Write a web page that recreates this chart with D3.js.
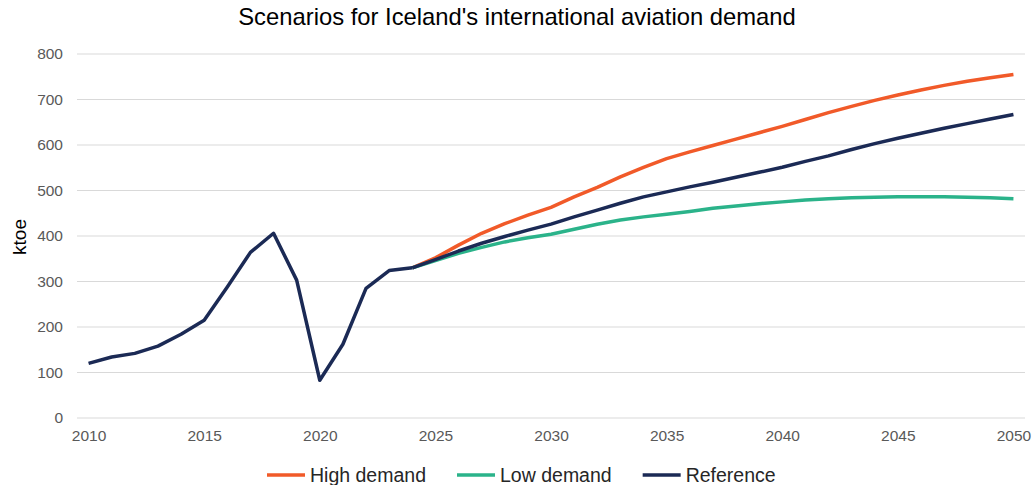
<!DOCTYPE html>
<html>
<head>
<meta charset="utf-8">
<script src="https://cdn.jsdelivr.net/npm/d3@7"></script>
<style>
  html, body { margin: 0; padding: 0; background: #fff; }
  svg text { font-family: "Liberation Sans", Arial, sans-serif; }
</style>
</head>
<body>
<div id="viz"></div>
<script>
const years = d3.range(2010, 2051);
const historyYears = d3.range(2010, 2025);
const history = [120, 134, 142, 158, 184, 215, 288, 364, 406, 303, 83, 162, 285, 324, 330];
const projYears = d3.range(2024, 2051);
const highDemand = [330, 352, 380, 406, 427, 446, 463, 486, 507, 530, 551, 570, 585, 599, 613, 627, 641, 656, 671, 685, 698, 710, 721, 731, 740, 748, 755];
const lowDemand = [330, 346, 362, 375, 387, 396, 404, 415, 426, 435, 442, 448, 454, 461, 466, 471, 475, 479, 482, 484, 485, 486, 486, 486, 485, 484, 482];
const reference = [330, 348, 367, 384, 399, 413, 426, 442, 457, 472, 486, 497, 508, 518, 529, 540, 551, 564, 576, 590, 603, 615, 626, 637, 647, 657, 667];
const yTicks = [0, 100, 200, 300, 400, 500, 600, 700, 800];
const xTicks = [2010, 2015, 2020, 2025, 2030, 2035, 2040, 2045, 2050];

const series = [
  { name: 'High demand', color: '#F15A29', values: highDemand },
  { name: 'Low demand', color: '#2BB38A', values: lowDemand },
  { name: 'Reference', color: '#1B2A55', values: reference }
];

const W = 1035, H = 485;
const margin = { top: 54, right: 10, bottom: 67, left: 77 };
const plotW = 1025 - margin.left;
const plotH = 418 - margin.top;

const svg = d3.select('#viz').append('svg')
  .attr('width', W)
  .attr('height', H);

// category axis, points sit between tick marks like Excel
const x = d3.scalePoint().domain(years).range([0, plotW]).padding(0.5);
const y = d3.scaleLinear().domain([0, 800]).range([plotH, 0]);

const g = svg.append('g')
  .attr('transform', `translate(${margin.left},${margin.top})`);

g.append('g')
  .selectAll('line')
  .data(yTicks)
  .join('line')
  .attr('x1', 0).attr('x2', plotW)
  .attr('y1', d => y(d)).attr('y2', d => y(d))
  .attr('stroke', '#d9d9d9')
  .attr('stroke-width', 1);

const yAxis = g.append('g')
  .call(d3.axisLeft(y).tickValues(yTicks).tickSize(0).tickPadding(14));
yAxis.select('.domain').remove();
yAxis.selectAll('text')
  .attr('fill', '#595959')
  .style('font-size', '15.5px');

const xAxis = g.append('g')
  .attr('transform', `translate(0,${plotH})`)
  .call(d3.axisBottom(x).tickValues(xTicks).tickSize(0).tickPadding(12));
xAxis.select('.domain').remove();
xAxis.selectAll('text')
  .attr('fill', '#595959')
  .style('font-size', '15.5px');

const line = d3.line()
  .x(d => x(d.year))
  .y(d => y(d.value));

series.forEach(s => {
  const pts = projYears.map((yr, i) => ({ year: yr, value: s.values[i] }));
  g.append('path')
    .datum(pts)
    .attr('d', line)
    .attr('fill', 'none')
    .attr('stroke', s.color)
    .attr('stroke-width', 3.5)
    .attr('stroke-linejoin', 'round');
});

g.append('path')
  .datum(historyYears.map((yr, i) => ({ year: yr, value: history[i] })))
  .attr('d', line)
  .attr('fill', 'none')
  .attr('stroke', '#1B2A55')
  .attr('stroke-width', 3.5)
  .attr('stroke-linejoin', 'round');

svg.append('text')
  .attr('x', 517)
  .attr('y', 25)
  .attr('text-anchor', 'middle')
  .attr('fill', '#000')
  .style('font-size', '23.8px')
  .text("Scenarios for Iceland's international aviation demand");

svg.append('text')
  .attr('transform', `translate(26,${margin.top + plotH / 2 + 1}) rotate(-90)`)
  .attr('text-anchor', 'middle')
  .attr('fill', '#000')
  .style('font-size', '19px')
  .text('ktoe');

// legend
const legend = svg.append('g').attr('transform', 'translate(267,475)');
let lx = 0;
series.forEach(s => {
  const item = legend.append('g').attr('transform', `translate(${lx},0)`);
  item.append('line')
    .attr('x1', 0).attr('x2', 38)
    .attr('y1', 0).attr('y2', 0)
    .attr('stroke', s.color)
    .attr('stroke-width', 3.5);
  const t = item.append('text')
    .attr('x', 43)
    .attr('y', 7)
    .attr('fill', '#262626')
    .style('font-size', '19.5px')
    .text(s.name);
  lx += 43 + t.node().getComputedTextLength() + 31;
});
</script>
</body>
</html>
